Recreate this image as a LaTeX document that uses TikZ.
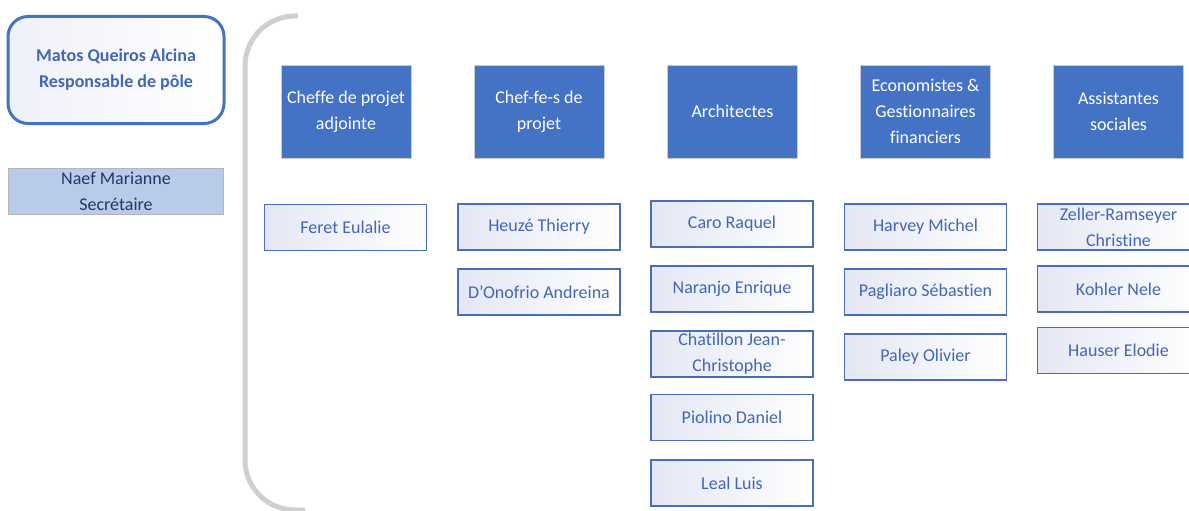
\documentclass[tikz,border=0pt]{standalone}
\usepackage{fontspec}
\setmainfont{Carlito}[Ligatures={NoCommon}]
\definecolor{hdr}{HTML}{4472C4}
\definecolor{hdrline}{HTML}{C8CCD4}
\definecolor{memtxt}{HTML}{4367B5}
\definecolor{memline}{HTML}{4A6DBA}
\definecolor{lav}{HTML}{E4E7F4}
\definecolor{secfill}{HTML}{B8CBE8}
\definecolor{secline}{HTML}{B0B6C0}
\definecolor{sectxt}{HTML}{1F3864}
\definecolor{brk}{HTML}{CFCFCF}
\begin{document}
\begin{tikzpicture}[x=1pt,y=-1pt,
  txt/.style={align=center,font=\fontsize{18}{26}\selectfont,inner sep=0pt},
  hdrbox/.style={txt,draw=hdrline,line width=0.8pt,fill=hdr,text=white,minimum width=130pt,minimum height=93pt},
  membox/.style={txt,draw=memline,line width=1.3pt,left color=lav,right color=white,text=memtxt,minimum width=162pt,minimum height=46pt},
  mgrbox/.style={txt,draw=hdr,line width=3pt,rounded corners=20pt,left color=lav!60,right color=white,text=memtxt,minimum width=216pt,minimum height=107pt,font=\fontsize{18}{26}\selectfont\bfseries},
  secbox/.style={txt,draw=secline,line width=0.8pt,fill=secfill,text=sectxt,minimum width=215pt,minimum height=46pt},
  bracket/.style={draw=brk,line width=5pt,rounded corners=50pt}
]
\useasboundingbox (0,0) rectangle (1189,511);
% left column
\node[mgrbox] (mgr) at (116,70) {Matos Queiros Alcina\\Responsable de pôle};
\node[secbox] (sec) at (116,191) {Naef Marianne\\Secrétaire};
% bracket
\draw[bracket] (298,16) -| (245,510) -- (305,510);
% headers
\node[hdrbox] (h1) at (346,111.5) {Cheffe de projet\\adjointe};
\node[hdrbox] (h2) at (539,111.5) {Chef-fe-s de\\projet};
\node[hdrbox] (h3) at (732.5,111.5) {Architectes};
\node[hdrbox] (h4) at (925.5,111.5) {Economistes \&\\Gestionnaires\\financiers};
\node[hdrbox] (h5) at (1118.5,111.5) {Assistantes\\sociales};
% column 1
\node[membox] (a1) at (345.5,227.5) {Feret Eulalie};
% column 2
\node[membox] (b1) at (539,227) {Heuzé Thierry};
\node[membox] (b2) at (539,292) {D’Onofrio Andreina};
% column 3
\node[membox] (c1) at (732,224) {Caro Raquel};
\node[membox] (c2) at (732,289) {Naranjo Enrique};
\node[membox] (c3) at (732,354) {Chatillon Jean-\\Christophe};
\node[membox] (c4) at (732,417.5) {Piolino Daniel};
\node[membox] (c5) at (732,483) {Leal Luis};
% column 4
\node[membox] (d1) at (925.5,227) {Harvey Michel};
\node[membox] (d2) at (925.5,292) {Pagliaro Sébastien};
\node[membox] (d3) at (925.5,357) {Paley Olivier};
% column 5
\node[membox] (e1) at (1118.5,227) {Zeller-Ramseyer\\Christine};
\node[membox] (e2) at (1118.5,289) {Kohler Nele};
\node[membox] (e3) at (1118.5,350.5) {Hauser Elodie};
\end{tikzpicture}
\end{document}
